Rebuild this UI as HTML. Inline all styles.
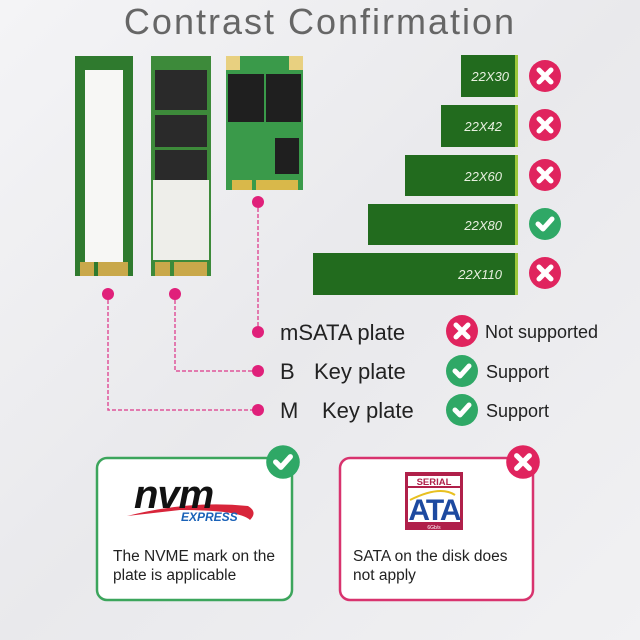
<!DOCTYPE html>
<html><head><meta charset="utf-8"><style>
html,body{margin:0;padding:0}
body{width:640px;height:640px;overflow:hidden;background:linear-gradient(135deg,#f4f4f6 0%,#e9e9ec 50%,#f1f1f3 100%);font-family:"Liberation Sans",sans-serif}
svg{display:block}
</style></head><body>
<svg width="640" height="640" viewBox="0 0 640 640" xmlns="http://www.w3.org/2000/svg" font-family="Liberation Sans, sans-serif">
<defs>
<g id="x"><circle r="16" fill="#e0245e"/><path d="M-6,-6 L6,6 M6,-6 L-6,6" stroke="#fff" stroke-width="5" stroke-linecap="round"/></g>
<g id="c"><circle r="16" fill="#2fa866"/><path d="M-7,0 L-2,5 L7,-5" stroke="#fff" stroke-width="5" fill="none" stroke-linecap="round" stroke-linejoin="round"/></g>
</defs>
<text x="320" y="34" text-anchor="middle" font-size="36" fill="#666" letter-spacing="2">Contrast Confirmation</text>

<rect x="75" y="56" width="58" height="220" fill="#2f7a2e"/>
<rect x="85" y="70" width="38" height="196" fill="#f7f7f5"/>
<rect x="80" y="262" width="48" height="14" fill="#c9a84a"/>
<rect x="94" y="262" width="4" height="14" fill="#2f7a2e"/>
<rect x="151" y="56" width="60" height="220" fill="#3d8a3a"/>
<rect x="155" y="70" width="52" height="40" fill="#2a2a2a"/>
<rect x="155" y="115" width="52" height="32" fill="#2a2a2a"/>
<rect x="155" y="150" width="52" height="30" fill="#2a2a2a"/>
<rect x="153" y="180" width="56" height="80" fill="#eeeeea"/>
<rect x="155" y="262" width="52" height="14" fill="#c9a84a"/>
<rect x="170" y="262" width="4" height="14" fill="#3d8a3a"/>
<rect x="226" y="56" width="77" height="134" fill="#3a9a4a"/>
<rect x="226" y="56" width="14" height="14" fill="#e8d080"/>
<rect x="289" y="56" width="14" height="14" fill="#e8d080"/>
<rect x="228" y="74" width="36" height="48" fill="#1f1f1f"/>
<rect x="266" y="74" width="35" height="48" fill="#1f1f1f"/>
<rect x="275" y="138" width="24" height="36" fill="#1f1f1f"/>
<rect x="232" y="180" width="66" height="10" fill="#d9b84a"/>
<rect x="252" y="180" width="4" height="10" fill="#3a9a4a"/>

<g fill="#226b1e">
<rect x="461" y="55" width="54" height="42"/>
<rect x="441" y="105" width="74" height="42"/>
<rect x="405" y="155" width="110" height="41"/>
<rect x="368" y="204" width="147" height="41"/>
<rect x="313" y="253" width="202" height="42"/>
</g>
<g fill="#9dc83c">
<rect x="515" y="55" width="3" height="42"/><rect x="515" y="105" width="3" height="42"/>
<rect x="515" y="155" width="3" height="41"/><rect x="515" y="204" width="3" height="41"/>
<rect x="515" y="253" width="3" height="42"/>
</g>
<g font-size="13" font-style="italic" fill="#e8f0e0" text-anchor="end">
<text x="509" y="81">22X30</text><text x="502" y="131">22X42</text>
<text x="502" y="181">22X60</text><text x="502" y="230">22X80</text>
<text x="502" y="279">22X110</text>
</g>
<use href="#x" x="545" y="76"/><use href="#x" x="545" y="125"/><use href="#x" x="545" y="175"/>
<use href="#c" x="545" y="224"/><use href="#x" x="545" y="273"/>

<g stroke="#e0559a" stroke-width="1.5" stroke-dasharray="4,2" fill="none">
<path d="M258,202 L258,332"/>
<path d="M175,294 L175,371 L258,371"/>
<path d="M108,294 L108,410 L258,410"/>
</g>
<g fill="#e0207a">
<circle cx="258" cy="202" r="6"/><circle cx="175" cy="294" r="6"/><circle cx="108" cy="294" r="6"/>
<circle cx="258" cy="332" r="6"/><circle cx="258" cy="371" r="6"/><circle cx="258" cy="410" r="6"/>
</g>
<g font-size="22" fill="#222">
<text x="280" y="340">mSATA plate</text>
<text x="280" y="379">B</text><text x="314" y="379">Key plate</text>
<text x="280" y="418">M</text><text x="322" y="418">Key plate</text>
</g>
<use href="#x" x="462" y="331"/><use href="#c" x="462" y="371"/><use href="#c" x="462" y="410"/>
<g font-size="18" fill="#222">
<text x="485" y="338">Not supported</text><text x="486" y="378">Support</text><text x="486" y="417">Support</text>
</g>

<rect x="97" y="458" width="195" height="142" rx="10" fill="#fff" stroke="#3ca55c" stroke-width="2.5"/>
<rect x="340" y="458" width="193" height="142" rx="10" fill="#fff" stroke="#d8336e" stroke-width="2.5"/>
<g transform="translate(283,462) scale(1.05)"><use href="#c"/></g>
<g transform="translate(523,462) scale(1.05)"><use href="#x"/></g>
<path d="M127,516 Q190,500 248,506 Q258,512 250,520 Q240,510 180,510 Z" fill="#d8253a"/>
<text x="134" y="508" font-size="40" font-weight="bold" font-style="italic" fill="#111" letter-spacing="-1">nvm</text>
<text x="181" y="521" font-size="12" font-weight="bold" font-style="italic" fill="#1a62b8">EXPRESS</text>
<g font-size="15.5" fill="#222">
<text x="113" y="561">The NVME mark on the</text><text x="113" y="580">plate is applicable</text>
<text x="353" y="561">SATA on the disk does</text><text x="353" y="580">not apply</text>
</g>
<rect x="405" y="472" width="58" height="58" fill="#b0204a"/>
<rect x="408" y="476" width="52" height="10" fill="#fff"/>
<text x="434" y="485" font-size="9.5" font-weight="bold" fill="#b0204a" text-anchor="middle">SERIAL</text>
<rect x="408" y="488" width="52" height="34" fill="#fff"/>
<text x="434" y="520" font-size="30" font-weight="bold" fill="#1d4aa0" text-anchor="middle" letter-spacing="-2">ATA</text>
<path d="M410,500 Q440,485 455,495" stroke="#e8c020" stroke-width="2" fill="none"/>
<text x="434" y="529" font-size="5" fill="#fff" text-anchor="middle">6Gb/s</text>
</svg>
</body></html>
